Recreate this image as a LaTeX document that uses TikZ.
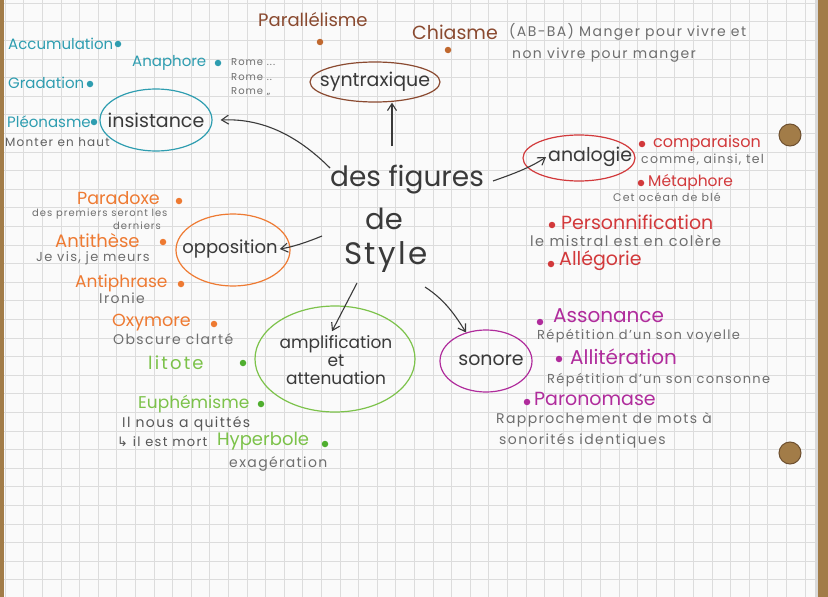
\documentclass[tikz,border=0pt]{standalone}
\usepackage{fontspec}
\setmainfont{Poppins}
\newfontfamily\symf{DejaVu Sans}
\usetikzlibrary{shapes.geometric,arrows.meta}
\definecolor{paper}{HTML}{FAFAFA}
\definecolor{gridc}{HTML}{DCDCDC}
\definecolor{ink}{HTML}{3A3A3A}
\definecolor{greyt}{HTML}{6E6E6E}
\definecolor{teal}{HTML}{2E9DB0}
\definecolor{brownc}{HTML}{8A4A30}
\definecolor{browndot}{HTML}{C0682E}
\definecolor{redc}{HTML}{D2393B}
\definecolor{orangec}{HTML}{EE7A32}
\definecolor{greenc}{HTML}{7CC24A}
\definecolor{greendot}{HTML}{4FAE2E}
\definecolor{purplec}{HTML}{B02C9C}
\definecolor{wood}{HTML}{A27C48}
\definecolor{wooddark}{HTML}{6E5030}
\newcommand{\gs}[1]{\fontsize{#1}{#1}\selectfont\addfontfeature{LetterSpace=10}}
\begin{document}
\begin{tikzpicture}[x=1pt,y=-1pt,
  lbl/.style={anchor=west, inner sep=0pt, font=\fontsize{17}{17}\selectfont},
  gr/.style={anchor=west, inner sep=0pt, text=greyt, font=\gs{13}},
  dotn/.style={circle, inner sep=0pt, minimum size=6.5pt},
  bub/.style={ellipse, draw, line width=1.2pt, inner sep=0pt},
  btxt/.style={inner sep=0pt, text=ink, font=\fontsize{19}{19}\selectfont},
  arr/.style={-{Straight Barb[length=7pt,width=9pt]}, draw=ink, line width=1.1pt},
  hole/.style={circle, fill=wood, draw=wooddark, line width=1pt, minimum size=22pt, inner sep=0pt}]
\useasboundingbox (0,0) rectangle (828,597);
\fill[paper] (0,0) rectangle (828,597);
\foreach \i in {0,...,44} \draw[gridc, line width=0.6pt] ({5+\i*18.6},0) -- ({5+\i*18.6},597);
\foreach \j in {0,...,32} \draw[gridc, line width=0.6pt] (0,{3+\j*18.6}) -- (828,{3+\j*18.6});
\fill[wood] (0,0) rectangle (4,597);
\fill[wood] (818,0) rectangle (828,597);
\fill[black!15] (815,0) rectangle (818,597);
\node[hole] (h1) at (790,135) {};
\node[hole] (h2) at (790,453) {};

% central
\node[inner sep=0pt, text=ink, font=\fontsize{28}{28}\selectfont] (f1) at (407,180) {des figures};
\node[inner sep=0pt, text=ink, font=\fontsize{29}{29}\selectfont] (f2) at (384,219) {de};
\node[inner sep=0pt, text=ink, font=\fontsize{31}{31}\selectfont\addfontfeature{LetterSpace=8}] (f3) at (386,257) {Style};

% bubbles
\node[bub, draw=brownc, minimum width=130pt, minimum height=40pt] (syn) at (375,82) {};
\node[btxt] (synt) at (syn.center) {syntraxique};
\node[bub, draw=teal, minimum width=112pt, minimum height=62pt] (ins) at (156,120) {};
\node[btxt] (inst) at (ins.center) {insistance};
\node[bub, draw=redc, minimum width=112pt, minimum height=46pt] (ana) at (579,158) {};
\node[btxt, anchor=west] (anat) at (548,157) {analogie};
\node[bub, draw=orangec, minimum width=114pt, minimum height=72pt] (opp) at (233,250) {};
\node[btxt, font=\fontsize{18}{18}\selectfont] (oppt) at (230,249) {opposition};
\node[bub, draw=greenc, minimum width=160pt, minimum height=106pt] (amp) at (335,359) {};
\node[btxt, align=center, font=\fontsize{17}{18}\selectfont] (ampt) at (336,360) {amplification\\et\\attenuation};
\node[bub, draw=purplec, minimum width=92pt, minimum height=62pt] (son) at (486,361) {};
\node[btxt] (sont) at (491,360) {sonore};

% arrows
\coordinate (s1) at (392,146);
\draw[arr] (s1) -- (s1 |- syn.south);
\coordinate (s2) at (330,168);
\draw[arr] (s2) .. controls (300,138) and (265,118) .. ([xshift=8pt]ins.east);
\coordinate (s3) at (493,181);
\draw[arr] (s3) .. controls (510,175) and (530,168) .. ([xshift=-2pt]anat.west);
\coordinate (s4) at (322,236);
\draw[arr] (s4) .. controls (305,243) and (292,247) .. ([xshift=2pt]oppt.east);
\coordinate (s5) at (357,283);
\draw[arr] (s5) -- ([xshift=-4pt,yshift=4pt]ampt.north);
\coordinate (s6) at (425,287);
\draw[arr] (s6) .. controls (445,300) and (455,315) .. (son.125);

% teal
\node[lbl, text=teal, font=\fontsize{15}{15}\selectfont] (acc) at (8,44) {Accumulation};
\node[dotn, fill=teal] (dacc) at (118,44) {};
\node[lbl, text=teal, font=\fontsize{15}{15}\selectfont] (ana2) at (132,63) {Anaphore};
\node[dotn, fill=teal] (dana) at (218,63) {};
\node[gr, font=\gs{10}] (r1) at (231,62) {Rome ...};
\node[gr, font=\gs{10}] (r2) at (231,77) {Rome ..};
\node[gr, font=\gs{10}] (r3) at (231,92) {Rome ,,};
\node[lbl, text=teal, font=\fontsize{15}{15}\selectfont] (grad) at (8,83) {Gradation};
\node[dotn, fill=teal] (dgrad) at (90,84) {};
\node[lbl, text=teal, font=\fontsize{15}{15}\selectfont] (pleo) at (7,122) {Pléonasme};
\node[dotn, fill=teal] (dpleo) at (94,122) {};
\node[gr, text=ink!80, font=\gs{12}] (mont) at (5,142) {Monter en haut};

% brown
\node[lbl, text=brownc, font=\fontsize{18}{18}\selectfont] (para) at (258,20) {Parallélisme};
\node[dotn, fill=browndot] (dpara) at (320,42) {};
\node[lbl, text=brownc, font=\fontsize{19}{19}\selectfont] (chia) at (412,32) {Chiasme};
\node[dotn, fill=browndot] (dchia) at (448,50) {};
\node[gr, font=\gs{14}] (chi1) at (509,32) {(AB-BA) Manger pour vivre et};
\node[gr, font=\gs{14}] (chi2) at (512,55) {non vivre pour manger};

% red
\node[dotn, fill=redc] (dcomp) at (642,144) {};
\node[lbl, text=redc, font=\fontsize{16}{16}\selectfont] (comp) at (653,143) {comparaison};
\node[gr, font=\gs{12.5}] (comp2) at (641,160) {comme, ainsi, tel};
\node[dotn, fill=redc] (dmeta) at (641,183) {};
\node[lbl, text=redc, font=\fontsize{15.5}{16}\selectfont] (meta) at (648,182) {Métaphore};
\node[gr, font=\gs{11}] (meta2) at (613,197) {Cet océan de blé};
\node[dotn, fill=redc] (dpers) at (552,225) {};
\node[lbl, text=redc, font=\fontsize{19}{19}\selectfont] (pers) at (561,222) {Personnification};
\node[gr, font=\gs{14.5}] (pers2) at (530,241) {le mistral est en colère};
\node[dotn, fill=redc] (dalle) at (551,264) {};
\node[lbl, text=redc, font=\fontsize{19}{19}\selectfont] (alle) at (559,261) {Allégorie};

% orange
\node[lbl, text=orangec, font=\fontsize{17.5}{17.5}\selectfont] (parad) at (77,198) {Paradoxe};
\node[dotn, fill=orangec] (dparad) at (179,201) {};
\node[gr, font=\gs{10}] (parad2) at (32,214) {des premiers seront les};
\node[gr, font=\gs{10}] (parad3) at (113,226) {derniers};
\node[lbl, text=orangec, font=\fontsize{18}{18}\selectfont] (anti) at (55,241) {Antithèse};
\node[dotn, fill=orangec] (danti) at (163,242) {};
\node[gr, font=\gs{13}] (anti2) at (36,258) {Je vis, je meurs};
\node[lbl, text=orangec, font=\fontsize{17}{17}\selectfont] (antip) at (75,283) {Antiphrase};
\node[dotn, fill=orangec] (dantip) at (181,284) {};
\node[gr, font=\gs{14}] (antip2) at (99,298) {Ironie};
\node[lbl, text=orangec, font=\fontsize{17.5}{17.5}\selectfont] (oxy) at (112,323) {Oxymore};
\node[dotn, fill=orangec] (doxy) at (214,324) {};
\node[gr, font=\gs{14}] (oxy2) at (113,339) {Obscure clarté};

% green
\node[lbl, text=greenc, font=\fontsize{18}{18}\selectfont\addfontfeature{LetterSpace=12}] (lito) at (148,363) {litote};
\node[dotn, fill=greendot] (dlito) at (243,363) {};
\node[lbl, text=greenc, font=\fontsize{17}{17}\selectfont] (euph) at (138,404) {Euphémisme};
\node[dotn, fill=greendot] (deuph) at (261,404) {};
\node[gr, text=ink!85, font=\gs{14}] (euph2) at (122,424) {Il nous a quittés};
\node[gr, text=ink!85, font=\gs{13}] (euph3) at (117,442) {{\symf ↳} il est mort};
\node[lbl, text=greenc, font=\fontsize{18}{18}\selectfont] (hyp) at (217,441) {Hyperbole};
\node[dotn, fill=greendot] (dhyp) at (325,444) {};
\node[gr, font=\gs{14}] (hyp2) at (229,464) {exagération};

% purple
\node[dotn, fill=purplec] (dass) at (540,322) {};
\node[lbl, text=purplec, font=\fontsize{20}{20}\selectfont] (ass) at (553,316) {Assonance};
\node[gr] (ass2) at (537,336) {Répétition d'un son voyelle};
\node[dotn, fill=purplec] (dall) at (559,359) {};
\node[lbl, text=purplec, font=\fontsize{20}{20}\selectfont] (allit) at (570,357) {Allitération};
\node[gr] (allit2) at (547,380) {Répétition d'un son consonne};
\node[dotn, fill=purplec] (dpar) at (527,402) {};
\node[lbl, text=purplec, font=\fontsize{19}{19}\selectfont] (paro) at (534,399) {Paronomase};
\node[gr, font=\gs{14}] (paro2) at (496,420) {Rapprochement de mots à};
\node[gr, font=\gs{14}] (paro3) at (499,441) {sonorités identiques};
\end{tikzpicture}
\end{document}
